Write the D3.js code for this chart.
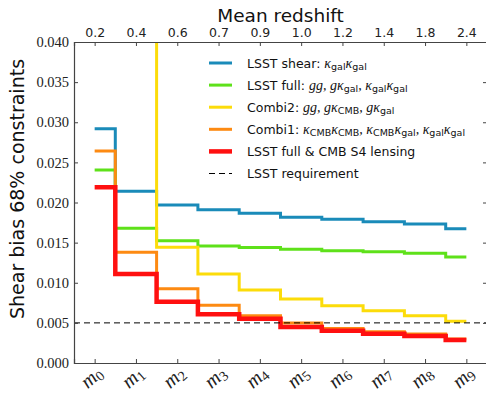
<!DOCTYPE html>
<html>
<head>
<meta charset="utf-8">
<script src="https://cdn.jsdelivr.net/npm/d3@7"></script>
<style>
  body { margin: 0; background: white; }
  svg { display: block; }
</style>
</head>
<body>
<div id="chart"><svg width="486" height="394"></svg></div>
<script>
// Data
const bins = [0, 1, 2, 3, 4, 5, 6, 7, 8, 9];
const redshiftLabels = ["0.2", "0.4", "0.6", "0.7", "0.9", "1.0", "1.2", "1.4", "1.8", "2.4"];
const yTicks = [0, 0.005, 0.01, 0.015, 0.02, 0.025, 0.03, 0.035, 0.04];

const lsstShear = [0.0292, 0.0214, 0.0197, 0.0191, 0.01865, 0.01816, 0.01791, 0.01761, 0.01732, 0.01674];
const lsstFull  = [0.02405, 0.01678, 0.01524, 0.01458, 0.0144, 0.01418, 0.0140, 0.01385, 0.01368, 0.0132];
const combi2    = [0.06, 0.05, 0.01442, 0.01109, 0.0091, 0.00798, 0.00714, 0.00652, 0.0059, 0.0052];
const combi1    = [0.02642, 0.01379, 0.00926, 0.00719, 0.0059, 0.00498, 0.0043, 0.0039, 0.0036, 0.0030];
const lsstCmbS4 = [0.0219, 0.01109, 0.00764, 0.00607, 0.00552, 0.00449, 0.00403, 0.00365, 0.00336, 0.00287];
const requirement = 0.005;

// series table built from the arrays above
const series = [
  { values: lsstShear, color: "#1a8bb9", width: 3 },
  { values: lsstFull,  color: "#5ee11a", width: 3 },
  { values: combi2,    color: "#fcdc0a", width: 3 },
  { values: combi1,    color: "#fd8a12", width: 3 },
  { values: lsstCmbS4, color: "#ff1010", width: 4.5 }
];

let svg = d3.select("div#chart svg"),
  margin = { top: 42, right: -1, bottom: 31, left: 74 },
  width = +svg.attr("width") - margin.left - margin.right,
  height = +svg.attr("height") - margin.top - margin.bottom,
  g = svg.append("g").attr("transform", "translate(" + margin.left + "," + margin.top + ")");

let x = d3.scaleLinear().domain([-0.5, 9.5]).range([0, width]);
let y = d3.scaleLinear().domain([0, 0.04]).range([height, 0]);

const serif = "Liberation Serif";
const sans = "DejaVu Sans";
const axisColor = "#444";

// clip
svg.append("defs").append("clipPath").attr("id", "clip")
  .append("rect").attr("width", width).attr("height", height);

// Step lines (steps at mid points)
let line = d3.line()
  .x((d, i) => x(bins[i]))
  .y(d => y(d))
  .curve(d3.curveStep);

let lines = g.append("g").attr("clip-path", "url(#clip)");
series.forEach(s => {
  lines.append("path")
    .datum(s.values)
    .attr("d", line)
    .attr("fill", "none")
    .attr("stroke", s.color)
    .attr("stroke-width", s.width)
    .attr("stroke-linejoin", "miter");
});

// requirement line
lines.append("line")
  .attr("x1", 0).attr("x2", width)
  .attr("y1", y(requirement)).attr("y2", y(requirement))
  .attr("stroke", "black")
  .attr("stroke-width", 1)
  .attr("stroke-dasharray", "6,4");

// Axes (ticks inside, like matplotlib classic)
let axB = g.append("g").attr("transform", "translate(0," + height + ")")
  .call(d3.axisBottom(x).tickValues(bins).tickSize(-4).tickFormat(""));
let axT = g.append("g")
  .call(d3.axisTop(x).tickValues(bins).tickSize(-4).tickFormat((d, i) => redshiftLabels[i]));
let axL = g.append("g")
  .call(d3.axisLeft(y).tickValues(yTicks).tickSize(-4).tickFormat(d3.format(".3f")));
let axR = g.append("g").attr("transform", "translate(" + width + ",0)")
  .call(d3.axisRight(y).tickValues(yTicks).tickSize(-4).tickFormat(""));

[axB, axT, axL, axR].forEach(a => {
  a.select(".domain").attr("stroke", axisColor).attr("stroke-width", 1.2);
  a.selectAll(".tick line").attr("stroke", axisColor);
});

axT.attr("font-family", sans).attr("font-size", 12.5);
axT.selectAll(".tick text")
  .attr("y", -5)
  .attr("fill", "#222");

axL.attr("font-family", serif).attr("font-size", 14.5);
axL.selectAll(".tick text")
  .attr("x", -5)
  .attr("fill", "#222");

// Bottom labels m_i
bins.forEach(b => {
  let t = g.append("text")
    .attr("transform", "translate(" + (x(b) + 1) + "," + (height + 19) + ") rotate(-42)")
    .attr("text-anchor", "middle")
    .attr("font-family", serif)
    .attr("fill", "#222");
  t.append("tspan")
    .attr("font-style", "italic")
    .attr("font-size", 20)
    .text("m");
  t.append("tspan")
    .attr("dy", 3)
    .attr("font-size", 14)
    .text(b);
});

// Axis titles
g.append("text")
  .attr("x", width / 2)
  .attr("y", -20)
  .attr("text-anchor", "middle")
  .attr("font-family", sans)
  .attr("font-size", 18.5)
  .attr("fill", "#111")
  .text("Mean redshift");

g.append("text")
  .attr("transform", "rotate(-90)")
  .attr("x", -147)
  .attr("y", -50)
  .attr("text-anchor", "middle")
  .attr("font-family", sans)
  .attr("font-size", 19)
  .attr("fill", "#111")
  .text("Shear bias 68% constraints");

// Legend
const K = "\u03BA";
const legendItems = [
  [["LSST shear: ", "t"], [K, "m"], ["gal", "s"], [K, "m"], ["gal", "s"]],
  [["LSST full: ", "t"], ["gg", "m"], [", ", "m"], ["g" + K, "m"], ["gal", "s"], [", ", "m"], [K, "m"], ["gal", "s"], [K, "m"], ["gal", "s"]],
  [["Combi2: ", "t"], ["gg", "m"], [", ", "m"], ["g" + K, "m"], ["CMB", "s"], [", ", "m"], ["g" + K, "m"], ["gal", "s"]],
  [["Combi1: ", "t"], [K, "m"], ["CMB", "s"], [K, "m"], ["CMB", "s"], [", ", "m"], [K, "m"], ["CMB", "s"], [K, "m"], ["gal", "s"], [", ", "m"], [K, "m"], ["gal", "s"], [K, "m"], ["gal", "s"]],
  [["LSST full & CMB S4 lensing", "t"]],
  [["LSST requirement", "t"]]
];

let legend = g.append("g").attr("class", "legend");
legendItems.forEach((parts, i) => {
  let ly = 21 + i * 22.1;
  let s = series[i];
  legend.append("line")
    .attr("x1", 135).attr("x2", 158)
    .attr("y1", ly).attr("y2", ly)
    .attr("stroke", s ? s.color : "black")
    .attr("stroke-width", s ? s.width : 1)
    .attr("stroke-dasharray", s ? null : "6,4");
  let t = legend.append("text")
    .attr("x", 173)
    .attr("y", ly + 4.5)
    .attr("fill", "#111");
  let inSub = false;
  parts.forEach(p => {
    let ts = t.append("tspan").text(p[0]);
    if (p[1] === "t") {
      ts.attr("font-family", sans).attr("font-size", 12.5);
    } else if (p[1] === "m") {
      ts.attr("font-family", serif).attr("font-style", "italic").attr("font-size", 14);
    } else {
      ts.attr("font-family", sans).attr("font-size", 9.5);
    }
    if (p[1] === "s" && !inSub) { ts.attr("dy", 2.5); inSub = true; }
    else if (p[1] !== "s" && inSub) { ts.attr("dy", -2.5); inSub = false; }
  });
});
</script>
</body>
</html>
